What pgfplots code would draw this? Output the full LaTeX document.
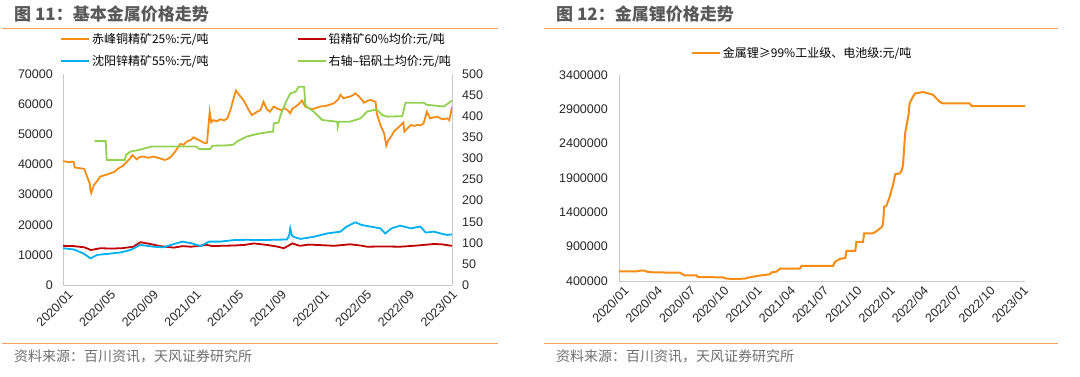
\documentclass[border=0pt]{standalone}
\usepackage{pgfplots}
\pgfplotsset{compat=1.18}
\usepackage{fontspec}
\setmainfont{Liberation Sans}
\newfontfamily\cjk{Noto Sans CJK SC}
\definecolor{cOr}{RGB}{245,140,20}
\definecolor{cRed}{RGB}{192,0,0}
\definecolor{cBlue}{RGB}{0,176,240}
\definecolor{cGreen}{RGB}{146,208,80}
\definecolor{sepOr}{RGB}{244,160,90}
\definecolor{axGray}{RGB}{200,200,200}
\definecolor{titleGray}{RGB}{89,89,89}
\definecolor{srcGray}{RGB}{110,110,110}
\pgfplotsset{
  base/.style={
    scale only axis,
    major tick length=0pt,
    scaled x ticks=false, scaled y ticks=false,
    axis line style={draw=axGray, line width=0.8pt, -},
    tick label style={font=\fontsize{12.5}{13}\selectfont, text=black!85},
    xticklabel style={rotate=45, anchor=north east, inner sep=0pt, yshift=-6pt},
    legend style={draw=none, fill=none, font=\cjk\fontsize{12}{12}\selectfont, inner sep=0pt},
    legend cell align=left,
    legend image code/.code={\draw[#1, line width=2pt] (0pt,0pt) -- (28pt,0pt);},
  }
}
\begin{document}
\begin{tikzpicture}
\path[use as bounding box] (0pt,0pt) rectangle (1080pt,-376pt);
% ---------- left panel decorations
\node[anchor=west, inner sep=0pt, text=titleGray, font=\cjk\bfseries\fontsize{17}{17}\selectfont] at (14pt,-14pt) {图 11：基本金属价格走势};
\draw[sepOr, line width=1pt] (2pt,-28pt) -- (498pt,-28pt);
\draw[sepOr, line width=1pt] (2pt,-343pt) -- (498pt,-343pt);
\node[anchor=west, inner sep=0pt, text=srcGray, font=\cjk\fontsize{14}{14}\selectfont] at (14pt,-356pt) {资料来源：百川资讯，天风证券研究所};
% ---------- right panel decorations
\node[anchor=west, inner sep=0pt, text=titleGray, font=\cjk\bfseries\fontsize{17}{17}\selectfont] at (556pt,-14pt) {图 12：金属锂价格走势};
\draw[sepOr, line width=1pt] (544pt,-28pt) -- (1058pt,-28pt);
\draw[sepOr, line width=1pt] (544pt,-343pt) -- (1058pt,-343pt);
\node[anchor=west, inner sep=0pt, text=srcGray, font=\cjk\fontsize{14}{14}\selectfont] at (556pt,-356pt) {资料来源：百川资讯，天风证券研究所};

% ---------- left chart, left axis
\begin{axis}[base,
  at={(63pt,-285pt)}, anchor=south west,
  width=389pt, height=211pt,
  xmin=0, xmax=36.46, ymin=0, ymax=70000,
  axis x line*=bottom, axis y line*=left,
  xtick={0,4,...,36},
  xticklabels={2020/01,2020/05,2020/09,2021/01,2021/05,2021/09,2022/01,2022/05,2022/09,2023/01},
  ytick={0,10000,20000,30000,40000,50000,60000,70000},
  yticklabels={0,10000,20000,30000,40000,50000,60000,70000},
  yticklabel style={anchor=east, inner sep=0pt, xshift=-10pt},
  legend columns=2,
  legend style={at={(-0.008,1.205)}, anchor=north west,
    /tikz/every even column/.append style={column sep=86pt},
    row sep=7pt},
]
\addlegendimage{cOr}\addlegendentry{赤峰铜精矿25\%:元/吨}
\addlegendimage{cRed}\addlegendentry{铅精矿60\%均价:元/吨}
\addlegendimage{cBlue}\addlegendentry{沈阳锌精矿55\%:元/吨}
\addlegendimage{cGreen}\addlegendentry{右轴–铝矾土均价:元/吨}
\addplot[cRed, line width=1.8pt, forget plot] coordinates {
(0,13000)(1.0,12900)(2.0,12500)(2.5,11800)(2.6,11600)(3.5,12200)(4.5,12100)(5.5,12200)(6.6,12700)(7.25,14200)(8.2,13600)(9.1,12900)(10.4,12400)(11.2,12900)(12.0,12700)(13.5,13300)(14.0,12900)(14.75,13000)(16.0,13100)(17.0,13300)(17.9,13800)(19.1,13300)(20.0,12800)(20.7,12200)(21.5,13800)(22.2,13000)(23.0,13400)(23.8,13300)(25.4,13000)(26.9,13500)(27.9,13100)(28.5,12700)(30.0,12800)(31.6,12700)(33.2,13100)(34.75,13600)(35.5,13500)(36.46,13000)};
\addplot[cBlue, line width=1.8pt, forget plot] coordinates {
(0,12200)(1.0,11800)(1.9,10500)(2.6,8850)(3.2,10000)(4.1,10300)(5.4,10800)(6.3,11600)(7.25,13300)(8.5,12700)(9.4,12500)(10.4,13600)(11.2,14400)(12.1,13800)(12.9,12900)(13.7,14400)(14.75,14400)(16.0,14900)(17.25,15000)(18.5,14900)(19.75,15000)(21.0,15100)(21.2,16500)(21.3,18800)(21.45,16500)(21.6,16000)(22.25,15300)(23.5,16000)(24.75,17100)(26.0,17700)(26.6,19400)(27.4,20800)(28.0,19900)(28.8,19400)(29.75,18800)(30.2,17100)(30.8,18800)(31.6,19700)(32.6,18800)(33.5,19400)(34.0,17400)(34.75,17700)(35.4,17100)(36.0,16600)(36.46,16800)};
\addplot[cOr, line width=1.8pt, forget plot] coordinates {
(0,41100)(0.5,40800)(1.0,40900)(1.1,39000)(1.5,38800)(2.0,38500)(2.2,36500)(2.5,33700)(2.6,31000)(2.65,30500)(2.9,33200)(3.2,34500)(3.5,36000)(4.0,36500)(4.4,37000)(4.8,37500)(5.2,38700)(5.6,39500)(6.0,40900)(6.3,42000)(6.5,43100)(6.9,41700)(7.2,42500)(7.6,42600)(8.0,42200)(8.5,42600)(9.1,42000)(9.5,41500)(9.75,41700)(10.1,42500)(10.5,44200)(11.0,46800)(11.3,46500)(11.6,47600)(12.0,48200)(12.25,49000)(12.6,48300)(12.9,47800)(13.3,47000)(13.5,47200)(13.6,51400)(13.75,57500)(13.9,54000)(14.1,54700)(14.4,54300)(14.75,55000)(15.1,54600)(15.4,55300)(15.7,58100)(16.0,62000)(16.2,64500)(16.5,63100)(16.9,61400)(17.2,59500)(17.4,58100)(17.7,56400)(18.0,57000)(18.2,57500)(18.5,58000)(18.8,60800)(19.1,58300)(19.4,57500)(19.75,59200)(20.1,58500)(20.4,58100)(20.8,58600)(21.1,57800)(21.3,57000)(21.5,58500)(21.8,59200)(22.1,60000)(22.4,61200)(22.7,59200)(23.0,58800)(23.3,58300)(23.7,58700)(24.1,59200)(24.6,59400)(25.0,59800)(25.4,60300)(25.8,61600)(26.0,63100)(26.3,61900)(26.6,62300)(26.9,62500)(27.2,63000)(27.4,63600)(27.7,62700)(28.0,61500)(28.2,60500)(28.5,61000)(28.8,61400)(29.3,60800)(29.4,57000)(29.75,53100)(30.1,50300)(30.3,46200)(30.5,48100)(30.8,49500)(31.0,50900)(31.5,52500)(31.9,53900)(32.0,50900)(32.3,52000)(32.6,53100)(32.9,52800)(33.2,53100)(33.5,53000)(33.8,53600)(34.1,57500)(34.4,55300)(34.75,55600)(35.1,55900)(35.4,55200)(35.7,55000)(36.0,55300)(36.2,54700)(36.35,57000)(36.46,59200)};
\end{axis}
% ---------- left chart, right axis
\begin{axis}[base,
  at={(63pt,-285pt)}, anchor=south west,
  width=389pt, height=211pt,
  xmin=0, xmax=36.46, ymin=0, ymax=500,
  axis x line=none, axis y line*=right,
  ytick={0,50,100,150,200,250,300,350,400,450,500},
  yticklabels={0,50,100,150,200,250,300,350,400,450,500},
  yticklabel style={anchor=west, inner sep=0pt, xshift=10pt},
]
\addplot[cGreen, line width=1.8pt] coordinates {
(2.97,341)(4.0,341)(4.1,296)(5.0,296)(5.8,296)(5.9,308)(6.3,316)(7.1,320)(8.3,328)(10,328)(12.5,328)(12.8,322)(13.8,322)(14.0,330)(15.5,331)(16.0,333)(16.3,340)(17.25,352)(18.2,358)(19.4,363)(19.7,363)(19.75,383)(20.2,385)(20.4,403)(20.9,434)(21.3,454)(21.8,458)(22.1,470)(22.6,470)(22.7,430)(22.8,423)(23.5,411)(24.3,391)(25.7,387)(25.75,375)(25.85,387)(26.9,387)(27.9,395)(28.5,411)(29.4,416)(29.9,403)(30.4,399)(31.8,400)(32.1,432)(33.8,432)(34.1,427)(35.7,423)(36.46,437)};
\end{axis}
% ---------- right chart
\begin{axis}[base,
  at={(619pt,-281pt)}, anchor=south west,
  width=406pt, height=206pt,
  xmin=0, xmax=36.6, ymin=400000, ymax=3400000,
  axis x line*=bottom, axis y line*=left,
  xtick={0,3,...,36},
  xticklabels={2020/01,2020/04,2020/07,2020/10,2021/01,2021/04,2021/07,2021/10,2022/01,2022/04,2022/07,2022/10,2023/01},
  ytick={400000,900000,1400000,1900000,2400000,2900000,3400000},
  yticklabels={400000,900000,1400000,1900000,2400000,2900000,3400000},
  yticklabel style={anchor=east, inner sep=0pt, xshift=-11pt},
  legend style={at={(0.451,1.146)}, anchor=north},
]
\addplot[cOr, line width=2pt] coordinates {
(0,541000)(1.6,541000)(1.9,551000)(2.3,551000)(2.5,536000)(3.1,526000)(5.5,521000)(5.9,483000)(7.0,483000)(7.1,458000)(8.5,455000)(9.4,453000)(9.55,439000)(10.15,429000)(11.35,434000)(11.65,449000)(12.25,468000)(12.85,483000)(13.6,497000)(13.75,526000)(14.2,536000)(14.5,580000)(16.3,580000)(16.45,619000)(19.3,619000)(19.45,677000)(19.9,721000)(20.4,735000)(20.5,838000)(21.3,838000)(21.4,969000)(22.0,969000)(22.1,1095000)(22.9,1095000)(23.2,1124000)(23.7,1188000)(23.8,1226000)(23.9,1479000)(24.1,1494000)(24.4,1625000)(24.7,1795000)(24.9,1956000)(25.3,1966000)(25.5,2014000)(25.6,2087000)(25.8,2559000)(26.1,2816000)(26.2,2987000)(26.5,3084000)(26.7,3132000)(27.4,3152000)(27.9,3132000)(28.3,3113000)(28.7,3045000)(28.9,3011000)(29.2,2987000)(31.6,2987000)(31.8,2948000)(36.6,2948000)};
\addlegendentry{金属锂≥99\%工业级、电池级:元/吨}
\end{axis}
\end{tikzpicture}
\end{document}
